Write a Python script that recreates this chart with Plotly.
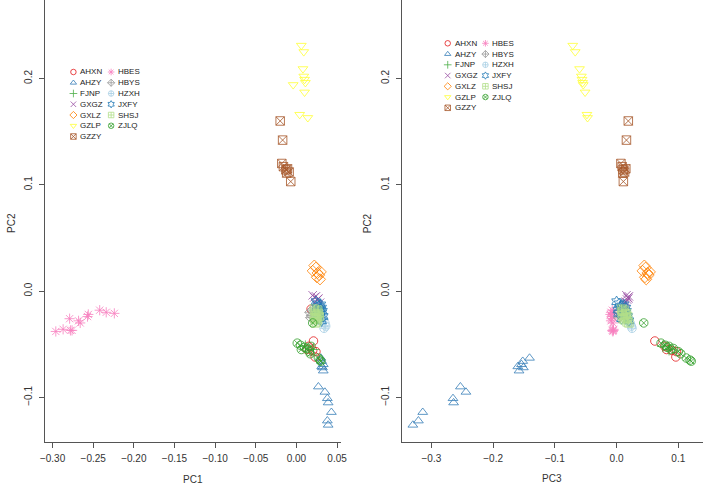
import plotly.graph_objects as go

# ---------------- data ----------------
GROUPS = ["AHXN", "AHZY", "FJNP", "GXGZ", "GXLZ", "GZLP", "GZZY",
          "HBES", "HBYS", "HZXH", "JXFY", "SHSJ", "ZJLQ"]
COLORS = ["#E41A1C", "#377EB8", "#4DAF4A", "#984EA3", "#FF7F00", "#FFFF33", "#A65628",
          "#F781BF", "#999999", "#A6CEE3", "#1F78B4", "#B2DF8A", "#33A02C"]
SYMBOLS = ["circle-open", "triangle-up-open", "cross-thin-open", "x-thin-open",
           "diamond-open", "triangle-down-open", "square-x-open", "asterisk-open",
           "diamond-cross-open", "circle-cross-open", "hexagram-open",
           "square-cross-open", "circle-x-open"]

AHXN_PC1 = [0.018, 0.021, 0.015, 0.013, 0.020, 0.024, 0.023]
AHXN_PC2 = [-0.017, -0.047, -0.052, -0.055, -0.056, -0.057, -0.062]
AHXN_PC3 = [0.010, 0.062, 0.078, 0.081, 0.090, 0.097, 0.096]

AHZY_PC1 = [0.030, 0.031, 0.033, 0.031, 0.032, 0.033, 0.027, 0.035, 0.038, 0.039, 0.043, 0.038, 0.039]
AHZY_PC2 = [-0.063, -0.066, -0.069, -0.071, -0.072, -0.075, -0.090, -0.095, -0.101, -0.105, -0.114, -0.122, -0.126]
AHZY_PC3 = [-0.141, -0.152, -0.154, -0.160, -0.151, -0.158, -0.253, -0.244, -0.265, -0.264, -0.314, -0.321, -0.330]

FJNP_PC1 = [0.025, 0.027, 0.021, 0.011]
FJNP_PC2 = [-0.020, -0.025, -0.055, -0.052]
FJNP_PC3 = [0.012, 0.014, 0.085, 0.075]

GXGZ_PC1 = [0.020, 0.022, 0.024, 0.026, 0.023, 0.027, 0.029, 0.025]
GXGZ_PC2 = [-0.004, -0.006, -0.005, -0.008, -0.010, -0.007, -0.011, -0.013]
GXGZ_PC3 = [0.016, 0.018, 0.020, 0.017, 0.015, 0.019, 0.014, 0.013]

GXLZ_PC1 = [0.022, 0.020, 0.024, 0.026, 0.025, 0.028, 0.029, 0.030]
GXLZ_PC2 = [0.024, 0.019, 0.022, 0.017, 0.013, 0.015, 0.011, 0.018]
GXLZ_PC3 = [0.045, 0.042, 0.047, 0.050, 0.046, 0.052, 0.048, 0.054]

GZLP_PC1 = [0.006, 0.009, 0.008, 0.009, 0.010, 0.011, -0.004, 0.010, 0.004, 0.014]
GZLP_PC2 = [0.231, 0.225, 0.209, 0.202, 0.199, 0.196, 0.194, 0.187, 0.166, 0.163]
GZLP_PC3 = [-0.071, -0.067, -0.060, -0.057, -0.056, -0.055, -0.054, -0.051, -0.048, -0.047]

GZZY_PC1 = [-0.020, -0.017, -0.018, -0.016, -0.013, -0.011, -0.012, -0.009, -0.007]
GZZY_PC2 = [0.160, 0.142, 0.120, 0.117, 0.114, 0.115, 0.111, 0.112, 0.103]
GZZY_PC3 = [0.019, 0.016, 0.007, 0.009, 0.011, 0.015, 0.010, 0.013, 0.011]

HBES_PC1 = [-0.296, -0.287, -0.279, -0.278, -0.276, -0.268, -0.266, -0.257, -0.256, -0.242, -0.234, -0.224]
HBES_PC2 = [-0.038, -0.036, -0.026, -0.037, -0.037, -0.028, -0.030, -0.024, -0.022, -0.018, -0.020, -0.021]
HBES_PC3 = [-0.006, -0.005, -0.008, -0.007, -0.005, -0.009, -0.006, -0.008, -0.010, -0.007, -0.009, -0.006]

HBYS_PC1 = [0.017, 0.019, 0.018, 0.020]
HBYS_PC2 = [-0.020, -0.023, -0.025, -0.018]
HBYS_PC3 = [0.005, 0.007, 0.004, 0.009]

HZXH_PC1 = [0.033, 0.035, 0.036, 0.034, 0.030]
HZXH_PC2 = [-0.026, -0.030, -0.033, -0.035, -0.028]
HZXH_PC3 = [0.020, 0.022, 0.024, 0.025, 0.018]

JXFY_PC1 = [0.024, 0.026, 0.028, 0.030, 0.031, 0.027, 0.029, 0.032, 0.025, 0.030, 0.033, 0.028, 0.031, 0.026, 0.029]
JXFY_PC2 = [-0.010, -0.012, -0.014, -0.013, -0.016, -0.018, -0.020, -0.019, -0.015, -0.022, -0.024, -0.026, -0.028, -0.021, -0.017]
JXFY_PC3 = [0.000, 0.004, 0.008, 0.012, 0.015, 0.002, 0.010, 0.016, 0.006, 0.013, 0.018, 0.008, 0.020, 0.003, 0.011]

SHSJ_PC1 = [0.022, 0.024, 0.026, 0.023, 0.025, 0.027, 0.024, 0.026, 0.022, 0.025, 0.028, 0.023]
SHSJ_PC2 = [-0.017, -0.019, -0.018, -0.022, -0.023, -0.021, -0.026, -0.027, -0.025, -0.029, -0.024, -0.030]
SHSJ_PC3 = [0.008, 0.010, 0.012, 0.014, 0.009, 0.016, 0.011, 0.013, 0.015, 0.017, 0.018, 0.020]

ZJLQ_PC1 = [0.020, 0.001, 0.005, 0.018, 0.010, 0.013, 0.006, 0.016, 0.017, 0.027, 0.029, 0.030]
ZJLQ_PC2 = [-0.030, -0.049, -0.051, -0.052, -0.053, -0.054, -0.055, -0.057, -0.059, -0.063, -0.065, -0.066]
ZJLQ_PC3 = [0.044, 0.072, 0.079, 0.085, 0.082, 0.092, 0.088, 0.100, 0.104, 0.113, 0.119, 0.121]

PC1 = {"AHXN": AHXN_PC1, "AHZY": AHZY_PC1, "FJNP": FJNP_PC1, "GXGZ": GXGZ_PC1, "GXLZ": GXLZ_PC1,
       "GZLP": GZLP_PC1, "GZZY": GZZY_PC1, "HBES": HBES_PC1, "HBYS": HBYS_PC1, "HZXH": HZXH_PC1,
       "JXFY": JXFY_PC1, "SHSJ": SHSJ_PC1, "ZJLQ": ZJLQ_PC1}
PC2 = {"AHXN": AHXN_PC2, "AHZY": AHZY_PC2, "FJNP": FJNP_PC2, "GXGZ": GXGZ_PC2, "GXLZ": GXLZ_PC2,
       "GZLP": GZLP_PC2, "GZZY": GZZY_PC2, "HBES": HBES_PC2, "HBYS": HBYS_PC2, "HZXH": HZXH_PC2,
       "JXFY": JXFY_PC2, "SHSJ": SHSJ_PC2, "ZJLQ": ZJLQ_PC2}
PC3 = {"AHXN": AHXN_PC3, "AHZY": AHZY_PC3, "FJNP": FJNP_PC3, "GXGZ": GXGZ_PC3, "GXLZ": GXLZ_PC3,
       "GZLP": GZLP_PC3, "GZZY": GZZY_PC3, "HBES": HBES_PC3, "HBYS": HBYS_PC3, "HZXH": HZXH_PC3,
       "JXFY": JXFY_PC3, "SHSJ": SHSJ_PC3, "ZJLQ": ZJLQ_PC3}

X1_TICKS = [-0.30, -0.25, -0.20, -0.15, -0.10, -0.05, 0.00, 0.05]
X3_TICKS = [-0.3, -0.2, -0.1, 0.0, 0.1]
Y_TICKS = [-0.1, 0.0, 0.1, 0.2]

# ---------------- layout constants ----------------
W, H = 709, 484
FONT = "Liberation Sans, Arial, sans-serif"
AXIS_COLOR = "#555555"
TEXT_COLOR = "#333333"
MSIZE = 8.5
ALPHA = 0.8

fig = go.Figure()

for i, g in enumerate(GROUPS):
    mk = dict(symbol=SYMBOLS[i], size=MSIZE, color=COLORS[i], opacity=ALPHA,
              line=dict(color=COLORS[i], width=1))
    fig.add_trace(go.Scatter(x=PC1[g], y=PC2[g], mode="markers", marker=mk,
                             xaxis="x", yaxis="y", showlegend=False, name=g))
    fig.add_trace(go.Scatter(x=PC3[g], y=PC2[g], mode="markers", marker=mk,
                             xaxis="x2", yaxis="y2", showlegend=False, name=g))

# ---------------- manual two-column legends (pixel overlay axis) ----------------
LEG_ROWS = 7
LEG_STEP = 10.75
legends = [
    dict(x0=69.5, y0=72.0, colgap=38.3),
    dict(x0=449.7, y0=43.3, colgap=38.3),
]
annotations = []
for L in legends:
    for i, g in enumerate(GROUPS):
        col, row = divmod(i, LEG_ROWS)
        sx = L["x0"] + col * L["colgap"]
        sy = L["y0"] + row * LEG_STEP
        fig.add_trace(go.Scatter(x=[sx], y=[sy], mode="markers", xaxis="x3", yaxis="y3",
                                 showlegend=False, hoverinfo="skip",
                                 marker=dict(symbol=SYMBOLS[i], size=5.5, color=COLORS[i],
                                             opacity=ALPHA, line=dict(color=COLORS[i], width=1))))
        annotations.append(dict(x=(sx + 5.0) / W, y=1 - sy / H, xref="paper", yref="paper",
                                text=g, showarrow=False, xanchor="left", yanchor="middle",
                                font=dict(family=FONT, size=8, color="#222222")))

# axis titles
annotations += [
    dict(x=191.2 / W, y=1 - 479 / H, text="PC1"),
    dict(x=556 / W, y=1 - 478 / H, text="PC3"),
    dict(x=6 / W, y=1 - 223 / H, text="PC2", textangle=-90),
    dict(x=368 / W, y=1 - 223 / H, text="PC2", textangle=-90),
]
for a in annotations[-4:]:
    a.update(xref="paper", yref="paper", showarrow=False, xanchor="center", yanchor="middle",
             font=dict(family=FONT, size=10, color=TEXT_COLOR))

axis_common = dict(showline=True, linecolor=AXIS_COLOR, linewidth=1, mirror=False,
                   ticks="outside", ticklen=5, tickwidth=1, tickcolor=AXIS_COLOR,
                   showgrid=False, zeroline=False,
                   tickfont=dict(family=FONT, size=10, color=TEXT_COLOR))

y_bot = 1 - 442 / H
fig.update_layout(
    width=W, height=H,
    margin=dict(l=0, r=0, t=0, b=0),
    paper_bgcolor="white", plot_bgcolor="rgba(0,0,0,0)",
    showlegend=False,
    annotations=annotations,
    xaxis=dict(domain=[40.7 / W, 341.7 / W], range=[-0.3092, 0.0553], anchor="y",
               tickvals=X1_TICKS, tickformat=".2f", ticklabelstandoff=2, **axis_common),
    yaxis=dict(domain=[y_bot, 1.0], range=[-0.142, 0.2738], anchor="x",
               tickvals=Y_TICKS, tickformat=".1f", tickangle=-90, ticklabelstandoff=3,
               **axis_common),
    xaxis2=dict(domain=[403 / W, 1.0], range=[-0.348, 0.140], anchor="y2",
                tickvals=X3_TICKS, tickformat=".1f", ticklabelstandoff=2, **axis_common),
    yaxis2=dict(domain=[y_bot, 1.0], range=[-0.142, 0.2738], anchor="x2",
                tickvals=Y_TICKS, tickformat=".1f", tickangle=-90, ticklabelstandoff=3,
                **axis_common),
    xaxis3=dict(domain=[0, 1], range=[0, W], visible=False, fixedrange=True, anchor="y3"),
    yaxis3=dict(domain=[0, 1], range=[H, 0], visible=False, fixedrange=True, anchor="x3"),
)

fig.write_html("out.html", config={"displayModeBar": False},
               post_script="document.body.style.margin='0';document.body.style.overflow='hidden';")
